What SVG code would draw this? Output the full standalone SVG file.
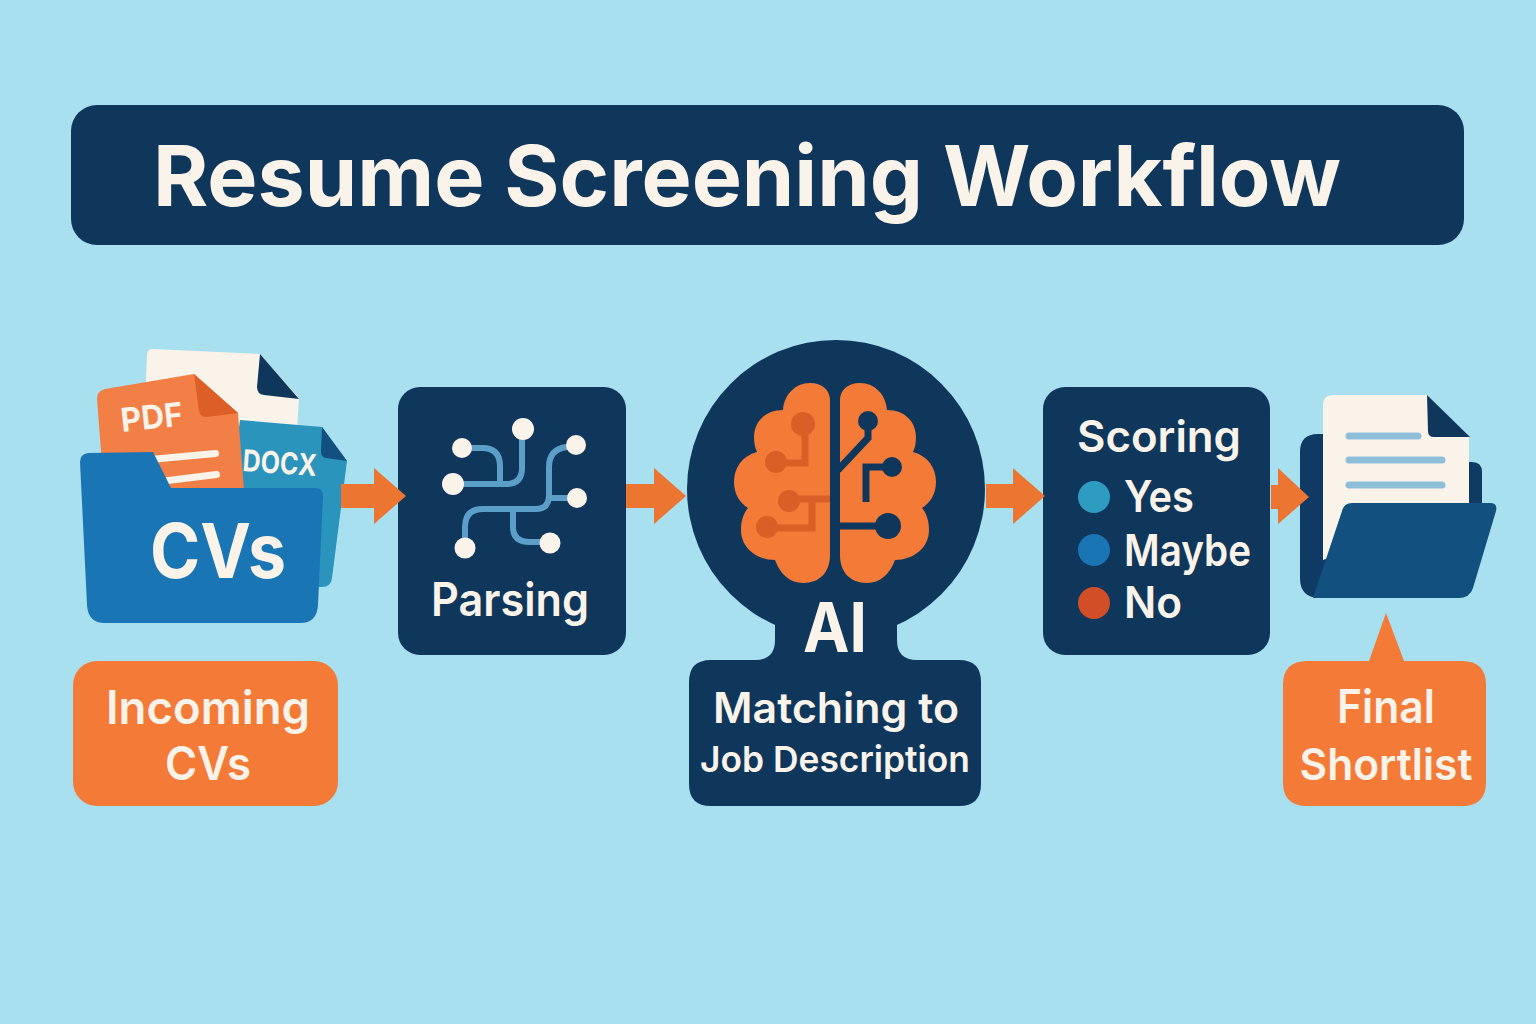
<svg xmlns="http://www.w3.org/2000/svg" xmlns:xlink="http://www.w3.org/1999/xlink" width="1536" height="1024" viewBox="0 0 1536 1024">
<style>
text{font-family:"Inter","Noto Sans","Liberation Sans",sans-serif;font-weight:600;fill:#faf3ea}
.b{font-weight:700}
.m{text-anchor:middle}
.navy{fill:#0f375c}
.orange{fill:#f47a38}
.cream{fill:#faf3ea}
.dot{fill:#faf3ea}
.wire{fill:none;stroke:#5b9fc8;stroke-width:6}
.cl{fill:none;stroke:#d95f26;stroke-width:7}
.cr{fill:none;stroke:#0f375c;stroke-width:7}
.arrow{fill:#ec7532}
</style>
<defs>
<path id="hemi" d="M830,400 C830,390 822,383 810,383 C795,383 784,395 783,410 C765,410 754,422 754,437 C754,443 755,448 757,452 C742,456 734,468 734,482 C734,494 740,503 748,508 C743,514 741,522 741,530 C741,548 757,560 775,560 C780,574 790,583 803,583 C820,583 830,572 830,555 Z"/>
</defs>
<rect width="1536" height="1024" fill="#a8e0ef"/>
<g id="title">
<rect class="navy" x="71" y="105" width="1393" height="140" rx="26"/>
<text class="b" x="153" y="206" font-size="84" textLength="1188" lengthAdjust="spacingAndGlyphs">Resume Screening Workflow</text>
</g>
<g id="cvs">
<path class="cream" d="M153,349 L260,354 L299,398 L297,430 L144,430 L147,355 Q147,349 153,349Z"/>
<path class="navy" d="M260,354 L299,399 L264,395 Q257,394 257,387Z"/>
<path fill="#2a94bd" d="M240,420 L322,427 L347,461 L332,578 Q331,587 322,587 L300,587 L230,500Z"/>
<path fill="#134f7f" d="M322,427 L347,461 L326,458 Q321,457 321,451Z"/>
<text class="b" x="242" y="471" font-size="30" textLength="74" lengthAdjust="spacingAndGlyphs" transform="rotate(4 242 471)">DOCX</text>
<path fill="#f27f45" d="M105,389 L194,374 L238,413 L244,490 L104,490 L97,399 Q97,391 105,389Z"/>
<path fill="#dc5f27" d="M194,374 L238,413 L207,417 Q200,417 199,411Z"/>
<text class="b" x="122" y="432" font-size="33" textLength="62" lengthAdjust="spacingAndGlyphs" transform="rotate(-6 122 432)">PDF</text>
<path class="cream" d="M150,456 L215,450 A3,3 0 0 1 216,457 L150,463Z M160,478 L216,471 A3,3 0 0 1 217,478 L160,485Z"/>
<path fill="#1a75b5" d="M88,453 L153,452 L171,488 L315,488 Q323,488 323,496 L318,605 Q317,623 300,623 L105,623 Q88,623 87,605 L80,462 Q80,454 88,453Z"/>
<text class="m b" x="218" y="578" font-size="76" textLength="136" lengthAdjust="spacingAndGlyphs">CVs</text>
</g>
<g id="incoming">
<rect class="orange" x="73" y="661" width="265" height="145" rx="24"/>
<text class="m" x="208" y="724" font-size="46" textLength="204" lengthAdjust="spacingAndGlyphs">Incoming</text>
<text class="m" x="208" y="780" font-size="46" textLength="86" lengthAdjust="spacingAndGlyphs">CVs</text>
</g>
<g id="parsing">
<rect class="navy" x="398" y="387" width="228" height="268" rx="22"/>
<path class="wire" d="M462,448 H482 Q500,448 500,466 V484"/>
<path class="wire" d="M453,484 H506 Q522,484 522,468 V429"/>
<path class="wire" d="M465,548 V527 Q465,509 483,509 H536 Q549,509 549,495 V467 Q549,449 567,447"/>
<path class="wire" d="M549,498 H577"/>
<path class="wire" d="M513,509 V527 Q513,542 530,542 H550"/>
<circle class="dot" cx="523" cy="429" r="11"/>
<circle class="dot" cx="462" cy="448" r="10"/>
<circle class="dot" cx="453" cy="484" r="11"/>
<circle class="dot" cx="576" cy="445" r="10"/>
<circle class="dot" cx="577" cy="498" r="10"/>
<circle class="dot" cx="550" cy="543" r="10.5"/>
<circle class="dot" cx="465" cy="548" r="10.5"/>
<text class="m" x="510" y="616" font-size="46" textLength="158" lengthAdjust="spacingAndGlyphs">Parsing</text>
</g>
<g id="ai">
<circle class="navy" cx="836" cy="489" r="149"/>
<path class="navy" d="M775,620 V640 Q775,660 755,660 L711,660 Q689,660 689,682 V784 Q689,806 711,806 H959 Q981,806 981,784 V682 Q981,660 959,660 H917 Q897,660 897,640 V620Z"/>
<use xlink:href="#hemi" href="#hemi" class="orange"/>
<use xlink:href="#hemi" href="#hemi" class="orange" transform="translate(1670 0) scale(-1 1)"/>
<circle cx="803" cy="424" r="12" fill="#d95f26"/>
<circle cx="776" cy="462" r="11" fill="#d95f26"/>
<circle cx="789" cy="501" r="11" fill="#d95f26"/>
<circle cx="767" cy="527" r="11" fill="#d95f26"/>
<path class="cl" d="M805,424 V463 H776"/>
<path class="cl" d="M789,499 H830 M812,499 V528 H767"/>
<circle cx="868" cy="421" r="10" fill="#0f375c"/>
<circle cx="892" cy="467" r="10" fill="#0f375c"/>
<circle cx="888" cy="526" r="13" fill="#0f375c"/>
<path class="cr" d="M868,421 V438 L838,470"/>
<path class="cr" d="M892,467 H866 V502"/>
<path class="cr" d="M838,526 H888"/>
<text class="m b" x="835" y="652" font-size="69" textLength="64" lengthAdjust="spacingAndGlyphs">AI</text>
<text class="m" x="836" y="723" font-size="42" textLength="246" lengthAdjust="spacingAndGlyphs">Matching to</text>
<text class="m" x="835" y="772" font-size="36" textLength="270" lengthAdjust="spacingAndGlyphs">Job Description</text>
</g>
<g id="scoring">
<rect class="navy" x="1043" y="387" width="227" height="268" rx="22"/>
<text class="m" x="1159" y="452" font-size="44" textLength="164" lengthAdjust="spacingAndGlyphs">Scoring</text>
<circle cx="1094" cy="497" r="16" fill="#2e9cc0"/>
<circle cx="1094" cy="550" r="16" fill="#1a75b5"/>
<circle cx="1094" cy="603" r="16" fill="#d24e26"/>
<text x="1124" y="512" font-size="44" textLength="70" lengthAdjust="spacingAndGlyphs">Yes</text>
<text x="1124" y="566" font-size="44" textLength="127" lengthAdjust="spacingAndGlyphs">Maybe</text>
<text x="1124" y="618" font-size="44" textLength="58" lengthAdjust="spacingAndGlyphs">No</text>
</g>
<g id="final-folder">
<path fill="#0e3a63" d="M1318,434 H1440 V462 H1472 Q1482,462 1482,472 V510 L1460,598 H1320 Q1300,598 1300,578 V452 Q1300,434 1318,434Z"/>
<path class="cream" d="M1333,395 H1427 L1469,437 V510 L1323,560 V405 Q1323,395 1333,395Z"/>
<path class="navy" d="M1427,395 L1470,437 H1434 Q1428,437 1428,431Z"/>
<path fill="none" stroke="#8fbfd8" stroke-width="7" stroke-linecap="round" d="M1349,436 H1418 M1349,460 H1442 M1349,485 H1442"/>
<path fill="#12507f" d="M1352,503 H1490 Q1498,503 1496,511 L1473,588 Q1470,598 1458,598 H1313 L1342,511 Q1344,503 1352,503Z"/>
</g>
<g id="shortlist">
<path class="orange" d="M1307,661 H1369 L1386,613 L1404,661 H1462 Q1486,661 1486,685 V782 Q1486,806 1462,806 H1307 Q1283,806 1283,782 V685 Q1283,661 1307,661Z"/>
<text class="m" x="1386" y="723" font-size="46" textLength="98" lengthAdjust="spacingAndGlyphs">Final</text>
<text class="m" x="1386" y="780" font-size="44" textLength="173" lengthAdjust="spacingAndGlyphs">Shortlist</text>
</g>
<g id="connectors">
<polygon class="arrow" points="341,484 374,484 374,468 406,496 374,524 374,508 341,508"/>
<polygon class="arrow" points="626,484 654,484 654,468 686,496 654,524 654,508 626,508"/>
<polygon class="arrow" points="986,484 1013,484 1013,468 1045,496 1013,524 1013,508 986,508"/>
<polygon class="arrow" points="1271,485 1278,485 1278,468 1309,497 1278,524 1278,509 1271,509"/>
</g>
</svg>
